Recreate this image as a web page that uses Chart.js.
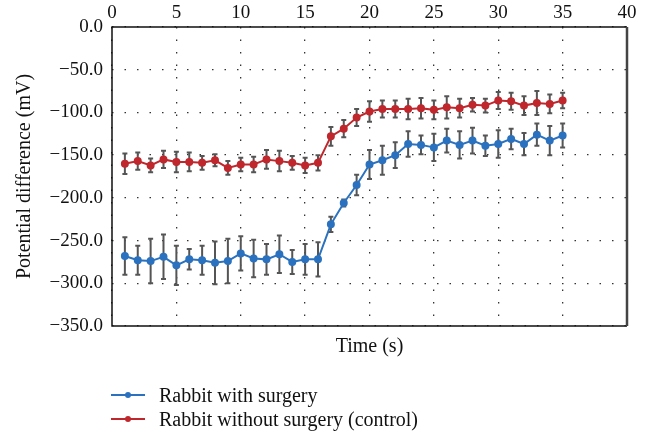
<!DOCTYPE html>
<html>
<head>
<meta charset="utf-8">
<script src="https://cdn.jsdelivr.net/npm/chart.js@4/dist/chart.umd.min.js"></script>
<style>
    body { margin: 0; background: #fff; }
    #wrap { position: relative; width: 649px; height: 433px; }
    .legend { position: absolute; left: 111px; font: 20px 'Liberation Serif', serif; color: #111; }
    .legend .item { position: relative; height: 24px; line-height: 24px; padding-left: 48px; }
    .legend .line { position: absolute; left: 0; top: 11px; width: 34px; height: 2px; }
    .legend .dot { position: absolute; left: 14px; top: -2px; width: 6px; height: 6px; border-radius: 50%; }
</style>
</head>
<body>
<div id="wrap">
    <canvas id="chart" width="649" height="433"></canvas>
    <div class="legend" style="top: 383px;">
        <div class="item"><span class="line" style="background:#2a72bf"><span class="dot" style="background:#2a72bf"></span></span>Rabbit with surgery</div>
        <div class="item"><span class="line" style="background:#c0272d"><span class="dot" style="background:#c0272d"></span></span>Rabbit without surgery (control)</div>
    </div>
</div>
<script>
'use strict';

// время, с
const timeS = [1, 2, 3, 4, 5, 6, 7, 8, 9, 10, 11, 12, 13, 14, 15, 16, 17, 18,
    19, 20, 21, 22, 23, 24, 25, 26, 27, 28, 29, 30, 31, 32, 33, 34, 35];

// с операцией
const surgeryMean = [-268, -273, -274, -269, -279, -272, -273, -276, -274, -265,
    -271, -272, -266, -275, -272, -272, -231, -206, -185, -161, -156, -150,
    -137, -138, -141, -133, -138, -133, -139, -137, -131, -137, -126, -133, -127];
const surgeryErr = [22, 17, 26, 26, 23, 12, 17, 25, 26, 20, 22, 18, 22, 14, 18,
    20, 9, 4, 12, 17, 17, 15, 15, 11, 16, 14, 16, 15, 12, 16, 12, 13, 13, 17, 14];

// без операции (контроль)
const controlMean = [-160, -157, -162, -155, -158, -158, -159, -156, -165, -161,
    -161, -155, -157, -159, -162, -159, -128, -119, -106, -99, -96, -96, -96,
    -95, -97, -94, -95, -91, -92, -86, -87, -92, -89, -90, -86];
const controlErr = [12, 10, 8, 10, 12, 11, 8, 7, 8, 8, 9, 11, 12, 8, 9, 9, 11,
    10, 10, 12, 10, 10, 12, 12, 11, 13, 11, 8, 8, 10, 10, 11, 14, 11, 9];

const xTicks = [0, 5, 10, 15, 20, 25, 30, 35, 40];
const yTicks = [0, -50, -100, -150, -200, -250, -300, -350];

const serif = "'Liberation Serif', 'Times New Roman', serif";

function points(mean, err) {
    return timeS.map((t, i) => ({ x: t, y: mean[i], err: err[i] }));
}

// вертикальные отрезки погрешностей с засечками
const errorBars = {
    id: 'errorBars',
    beforeDatasetsDraw(chart) {
        const { ctx, scales } = chart;
        ctx.save();
        ctx.strokeStyle = '#555';
        ctx.lineWidth = 2;
        for (let ds of chart.data.datasets) {
            for (let p of ds.data) {
                let px = scales.x.getPixelForValue(p.x);
                let top = scales.y.getPixelForValue(p.y + p.err);
                let bot = scales.y.getPixelForValue(p.y - p.err);
                ctx.beginPath();
                ctx.moveTo(px, top); ctx.lineTo(px, bot);
                ctx.moveTo(px - 2.5, top); ctx.lineTo(px + 2.5, top);
                ctx.moveTo(px - 2.5, bot); ctx.lineTo(px + 2.5, bot);
                ctx.stroke();
            }
        }
        ctx.restore();
    },
};

// рамка вокруг области графика
const frame = {
    id: 'frame',
    afterDraw(chart) {
        const { ctx, chartArea: a } = chart;
        ctx.save();
        ctx.strokeStyle = '#111';
        ctx.lineWidth = 1.5;
        ctx.beginPath();
        ctx.moveTo(a.right, a.top); ctx.lineTo(a.left, a.top);
        ctx.lineTo(a.left, a.bottom); ctx.lineTo(a.right, a.bottom);
        ctx.stroke();
        ctx.strokeStyle = '#444';
        ctx.lineWidth = 2.5;
        ctx.beginPath();
        ctx.moveTo(a.right, a.top); ctx.lineTo(a.right, a.bottom);
        ctx.stroke();
        ctx.restore();
    },
};

const dotted = {
    color: '#333',
    lineWidth: 1.3,
    drawTicks: false,
};

new Chart(document.getElementById('chart'), {
    type: 'line',
    data: {
        datasets: [
            {
                label: 'Rabbit with surgery',
                data: points(surgeryMean, surgeryErr),
                borderColor: '#2a72bf',
                backgroundColor: '#2a72bf',
                borderWidth: 2,
                pointRadius: 3,
            },
            {
                label: 'Rabbit without surgery (control)',
                data: points(controlMean, controlErr),
                borderColor: '#c0272d',
                backgroundColor: '#c0272d',
                borderWidth: 2,
                pointRadius: 3,
            },
        ],
    },
    options: {
        responsive: false,
        animation: false,
        layout: { padding: { left: 0, right: 22, top: 0, bottom: 74 } },
        plugins: {
            legend: { display: false },
            tooltip: { enabled: false },
        },
        scales: {
            x: {
                type: 'linear',
                position: 'top',
                min: 0,
                max: 40,
                afterBuildTicks: (s) => { s.ticks = xTicks.map((v) => ({ value: v })); },
                afterFit: (s) => { s.height = 27; },
                ticks: { padding: 3, color: '#111', font: { family: serif, size: 19 } },
                grid: dotted,
                border: { display: false, dash: [1.5, 11] },
            },
            xb: {
                type: 'linear',
                position: 'bottom',
                min: 0,
                max: 40,
                afterFit: (s) => { s.height = 33; },
                ticks: { display: false },
                grid: { display: false },
                border: { display: false },
                title: {
                    display: true,
                    text: 'Time (s)',
                    color: '#111',
                    padding: { top: 0, bottom: 0 },
                    font: { family: serif, size: 20 },
                },
            },
            y: {
                min: -350,
                max: 0,
                afterBuildTicks: (s) => { s.ticks = yTicks.map((v) => ({ value: v })); },
                afterFit: (s) => { s.width = 112; },
                ticks: {
                    padding: 9,
                    color: '#111',
                    font: { family: serif, size: 19 },
                    callback: (v) => v.toFixed(1).replace('-', '\u2212'),
                },
                grid: dotted,
                border: { display: false, dash: [1.5, 11] },
                title: {
                    display: true,
                    text: 'Potential difference (mV)',
                    color: '#111',
                    padding: { top: 13, bottom: 0 },
                    font: { family: serif, size: 20 },
                },
            },
        },
    },
    plugins: [errorBars, frame],
});
</script>
</body>
</html>
